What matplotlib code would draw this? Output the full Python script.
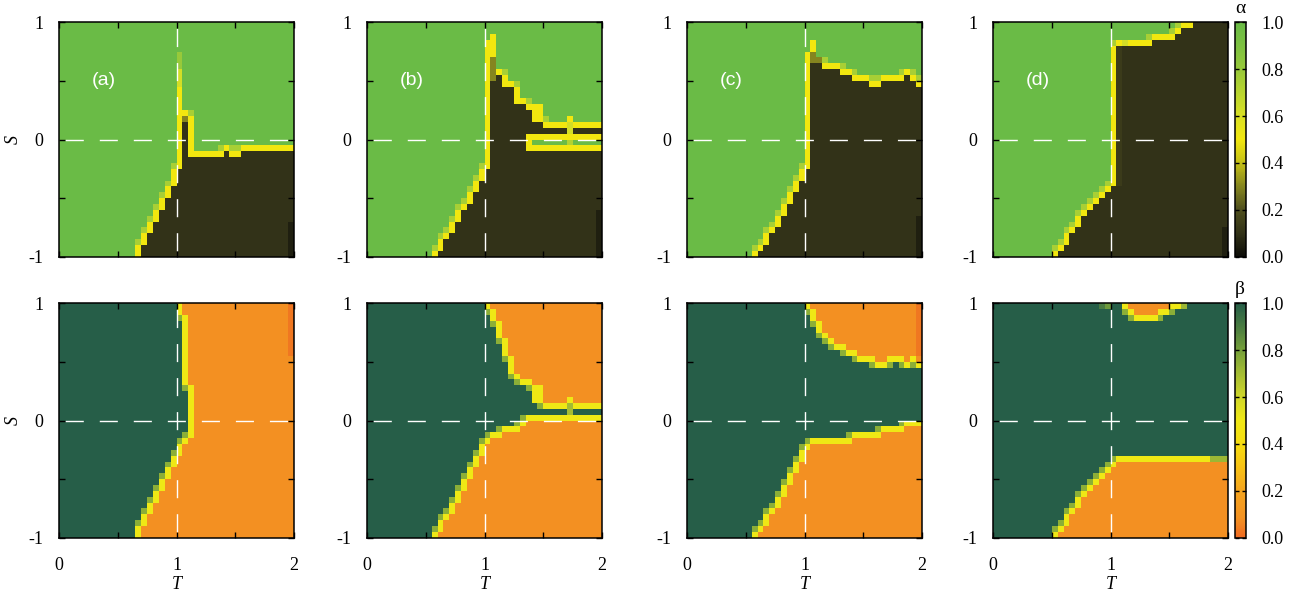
import numpy as np
import matplotlib
matplotlib.use('Agg')
import matplotlib.pyplot as plt
from matplotlib.colors import LinearSegmentedColormap, Normalize
from matplotlib.cm import ScalarMappable

plt.rcParams['font.family'] = ['Liberation Serif', 'DejaVu Serif']

# 40 x 40 cells, T in [0, 2], S in [-1, 1]; one value per column (left edge T = 0.00 .. 1.95)
T_edges = np.linspace(0, 2, 41)
S_edges = np.linspace(-1, 1, 41)
S_mid = (S_edges[:-1] + S_edges[1:]) / 2

panel_labels = ['(a)', '(b)', '(c)', '(d)']

# alpha: top edge of the dark (alpha ~ 0) region that starts at S = -1
alpha_a_top = [-1] * 14 + [-0.9, -0.8, -0.7, -0.6, -0.5, -0.4, -0.25, 0.2,
                           -0.15, -0.15, -0.15, -0.15, -0.15, -0.15, -0.1, -0.15, -0.15] + [-0.1] * 9
alpha_b_top = [-1] * 12 + [-0.95, -0.85, -0.8, -0.7, -0.6, -0.55, -0.45, -0.35, -0.25,
                           0.5, 0.55, 0.45, 0.45, 0.3, 0.3, 0.25, 0.15, 0.15] + [0.1] * 10
alpha_c_top = [-1] * 12 + [-0.95, -0.9, -0.8, -0.75, -0.65, -0.55, -0.45, -0.35, -0.25,
                           0.65, 0.65, 0.6, 0.6, 0.6, 0.55, 0.55, 0.5, 0.5, 0.5, 0.45, 0.45,
                           0.5, 0.5, 0.5, 0.5, 0.55, 0.5, 0.45]
alpha_d_top = [-1] * 11 + [-0.95, -0.9, -0.8, -0.75, -0.65, -0.6, -0.55, -0.5, -0.45, -0.4] \
    + [0.8] * 6 + [0.85] * 4 + [0.9, 0.95, 0.95] + [1.0] * 6
# green strip inside the dark region of panel (b)
alpha_b_gap_lo = [np.nan] * 27 + [-0.1] * 13
alpha_b_gap_hi = [np.nan] * 27 + [0.05] * 13

# beta: top edge of the lower orange region, bottom edge of the upper orange region
beta_a_low = [-1] * 14 + [-0.9, -0.8, -0.7, -0.6, -0.5, -0.4, -0.3, -0.2, -0.15] + [1] * 17
beta_a_up = [1] * 21 + [0.9, 0.3] + [1] * 17
beta_b_low = [-1] * 12 + [-0.95, -0.85, -0.8, -0.7, -0.6, -0.5, -0.4, -0.3, -0.2,
                          -0.15, -0.15, -0.1, -0.1, -0.1, -0.05] + [0.0] * 13
beta_b_up = [1] * 21 + [0.95, 0.85, 0.7, 0.55, 0.4, 0.35, 0.35, 0.3, 0.3,
                        0.15, 0.15, 0.15, 0.15, 0.2, 0.15, 0.15, 0.15, 0.15, 0.15]
beta_c_low = [-1] * 12 + [-0.95, -0.9, -0.8, -0.75, -0.65, -0.55, -0.45, -0.35, -0.25] \
    + [-0.2] * 7 + [-0.15] * 5 + [-0.1] * 4 + [-0.05] * 3
beta_c_up = [1] * 21 + [0.95, 0.85, 0.75, 0.7, 0.65, 0.65, 0.6, 0.6, 0.55, 0.55,
                        0.55, 0.5, 0.5, 0.55, 0.55, 0.55, 0.5, 0.55, 0.5]
beta_d_low = [-1] * 11 + [-0.95, -0.9, -0.8, -0.75, -0.65, -0.6, -0.55, -0.5, -0.45, -0.4] + [-0.35] * 19
beta_d_up = [1] * 23 + [0.95, 0.9, 0.9, 0.9, 0.9, 0.95, 0.95] + [1] * 10

# single cells that differ from the plain two-state picture: (T column, S from, S to, value)
alpha_a_cells = [(1.0, 0.2, 0.45, 0.5), (1.0, 0.45, 0.6, 0.62), (1.0, 0.6, 0.75, 0.8),
                 (1.05, 0.15, 0.2, 0.3), (1.95, -1, -0.7, 0.05)]
alpha_b_cells = [(1.0, 0.5, 0.85, 0.5), (1.05, 0.5, 0.7, 0.3), (1.05, 0.7, 0.9, 0.5),
                 (1.4, 0.15, 0.3, 0.5), (1.45, 0.15, 0.3, 0.5), (1.7, 0.15, 0.2, 0.5),
                 (1.7, 0.05, 0.15, 0.62), (1.7, -0.05, 0.0, 0.72), (1.95, -1, -0.6, 0.05)]
alpha_c_cells = [(1.0, 0.65, 0.75, 0.5), (1.05, 0.65, 0.75, 0.3), (1.05, 0.75, 0.85, 0.5),
                 (1.1, 0.65, 0.7, 0.3), (1.95, -1, -0.65, 0.05)]
alpha_d_cells = [(1.05, -0.4, 0.8, 0.13), (1.1, 0.8, 0.85, 0.62), (1.95, -1, -0.75, 0.05)]
beta_a_cells = [(1.95, 0.55, 1, 0.03)]
beta_b_cells = [(1.4, 0.15, 0.25, 0.5), (1.45, 0.15, 0.25, 0.5), (1.7, 0.05, 0.15, 0.7)]
beta_c_cells = [(1.95, 0.55, 1, 0.03)]
beta_d_cells = [(0.9, 0.95, 1, 0.9), (0.95, 0.95, 1, 0.82), (1.55, 0.95, 1, 0.5),
                (1.6, 0.95, 1, 0.72), (1.85, -0.35, -0.3, 0.72), (1.9, -0.35, -0.3, 0.72),
                (1.95, -0.35, -0.3, 0.72)]

alpha_cmap = LinearSegmentedColormap.from_list('alpha', [
    (0.0, '#0d0d08'), (0.1, '#333318'), (0.2, '#4f4f1e'), (0.3, '#86861f'),
    (0.4, '#c4bf16'), (0.5, '#f2e70f'), (0.6, '#d9e024'), (0.7, '#b9d52f'),
    (0.8, '#98c93a'), (0.9, '#7dc141'), (1.0, '#6abb46')])
beta_cmap = LinearSegmentedColormap.from_list('beta', [
    (0.0, '#ef6a21'), (0.08, '#f39122'), (0.2, '#f5a51f'), (0.3, '#f8c215'),
    (0.4, '#f6dc10'), (0.5, '#f0e815'), (0.6, '#cfd629'), (0.7, '#a5bd33'),
    (0.8, '#76a03a'), (0.9, '#4a7c41'), (1.0, '#265e48')])


def build_grid(core, low, patches):
    Z = np.where(core, low, 1.0)
    pad = np.pad(core, 1)
    n4 = pad[:-2, 1:-1] | pad[2:, 1:-1] | pad[1:-1, :-2] | pad[1:-1, 2:]
    n8 = n4 | pad[:-2, :-2] | pad[:-2, 2:] | pad[2:, :-2] | pad[2:, 2:]
    Z[~core & n8] = 0.75
    Z[~core & n4] = 0.5
    for t, s0, s1, v in patches:
        j = int(round(t / 0.05))
        Z[(S_mid > s0) & (S_mid < s1), j] = v
    return Z


def alpha_grid(top, patches, gap_lo=None, gap_hi=None):
    s = S_mid[:, None]
    core = s < np.array(top)[None, :]
    if gap_lo is not None:
        core &= ~((s > np.array(gap_lo)[None, :]) & (s < np.array(gap_hi)[None, :]))
    return build_grid(core, 0.1, patches)


def beta_grid(low, up, patches):
    s = S_mid[:, None]
    core = (s < np.array(low)[None, :]) | (s > np.array(up)[None, :])
    return build_grid(core, 0.08, patches)


alpha_data = [alpha_grid(alpha_a_top, alpha_a_cells),
              alpha_grid(alpha_b_top, alpha_b_cells, alpha_b_gap_lo, alpha_b_gap_hi),
              alpha_grid(alpha_c_top, alpha_c_cells),
              alpha_grid(alpha_d_top, alpha_d_cells)]
beta_data = [beta_grid(beta_a_low, beta_a_up, beta_a_cells),
             beta_grid(beta_b_low, beta_b_up, beta_b_cells),
             beta_grid(beta_c_low, beta_c_up, beta_c_cells),
             beta_grid(beta_d_low, beta_d_up, beta_d_cells)]

W, H = 1298, 595
fig = plt.figure(figsize=(W / 100, H / 100), dpi=100)
lefts = [59, 367, 687, 993]
row_tops = [22.3, 303.3]
pw, ph = 235, 234.4

for r, (grids, cmap) in enumerate([(alpha_data, alpha_cmap), (beta_data, beta_cmap)]):
    for c in range(4):
        ax = fig.add_axes([lefts[c] / W, 1 - (row_tops[r] + ph) / H, pw / W, ph / H])
        ax.pcolormesh(T_edges, S_edges, grids[c], cmap=cmap, vmin=0, vmax=1, shading='flat')
        ax.set_xlim(0, 2)
        ax.set_ylim(-1, 1)
        ax.axvline(1, color='white', lw=1.0, linestyle=(20, (13, 11.5)))
        ax.axhline(0, color='white', lw=1.0, linestyle=(20, (13, 11.5)))
        ax.set_xticks([0, 0.5, 1, 1.5, 2])
        ax.set_yticks([-1, -0.5, 0, 0.5, 1])
        ax.set_yticklabels(['-1', '', '0', '', '1'])
        ax.tick_params(direction='in', top=True, right=True, length=4.3, width=1.0,
                       labelsize=13, color='black')
        ax.tick_params(axis='y', pad=11)
        ax.tick_params(axis='x', pad=14)
        for sp in ax.spines.values():
            sp.set_linewidth(1.1)
        if r == 1:
            ax.set_xticklabels(['0', '', '1', '', '2'])
            ax.set_xlabel('T', fontsize=13, style='italic', labelpad=1)
        else:
            ax.set_xticklabels([])
            ax.text(0.19, 0.75, panel_labels[c], transform=ax.transAxes, color='white',
                    fontsize=14, family='Liberation Sans', ha='center', va='center')
        if c == 0:
            ax.set_ylabel('S', fontsize=13, style='italic', labelpad=5)

    cax = fig.add_axes([1235 / W, 1 - (row_tops[r] + ph) / H, 11 / W, ph / H])
    cb = fig.colorbar(ScalarMappable(Normalize(0, 1), cmap), cax=cax)
    cb.set_ticks([0, 0.2, 0.4, 0.6, 0.8, 1.0])
    cb.set_ticklabels(['0.0', '0.2', '0.4', '0.6', '0.8', '1.0'])
    cb.ax.tick_params(direction='in', left=True, right=True, length=3, width=1.0,
                      labelsize=13, pad=11)
    cb.outline.set_linewidth(1.1)
    fig.text(1240 / W, 1 - (row_tops[r] - 14) / H, ['α', 'β'][r], fontsize=14,
             ha='center', va='center')

fig.savefig('out.png', dpi=100)
